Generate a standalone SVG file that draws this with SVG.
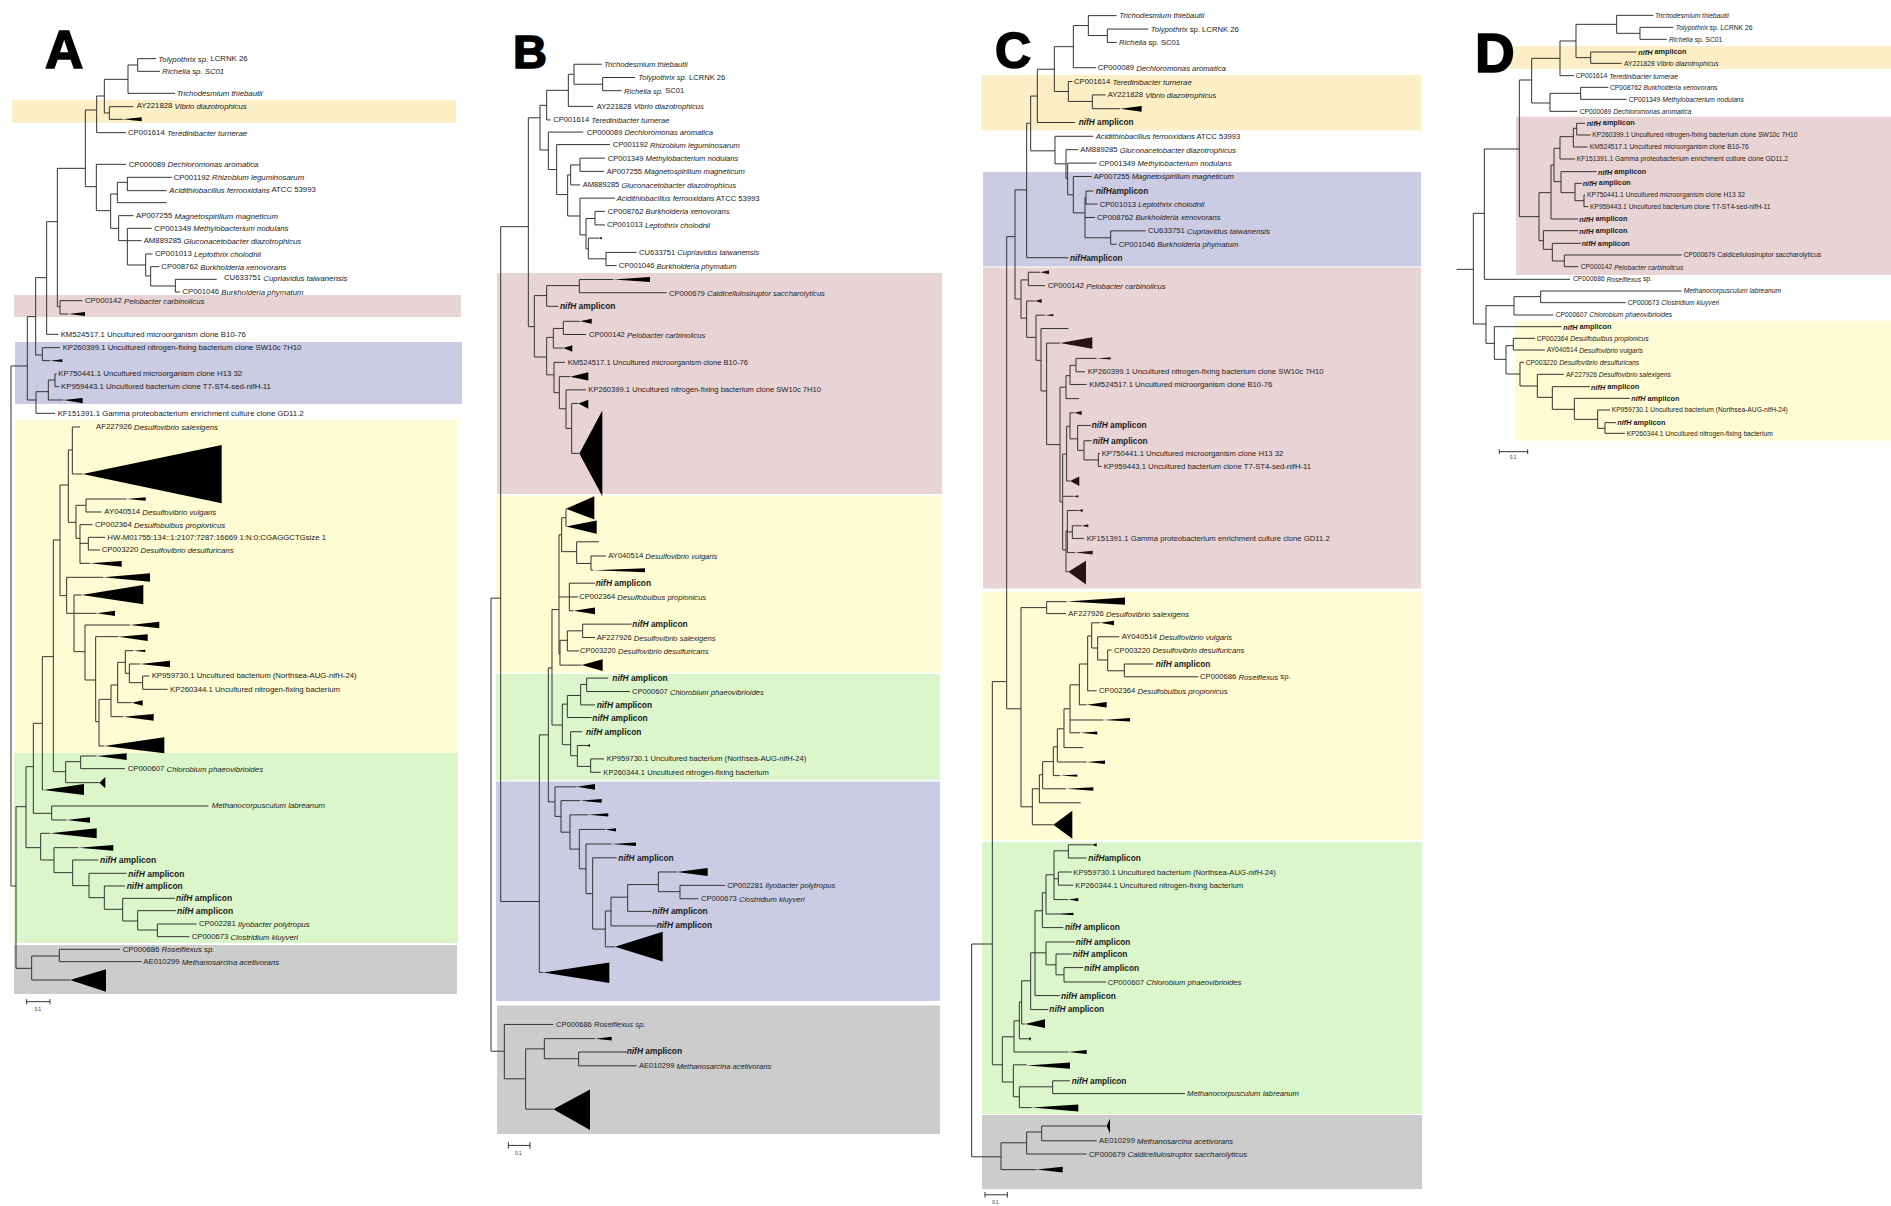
<svg xmlns="http://www.w3.org/2000/svg" width="1891" height="1206" viewBox="0 0 1891 1206">
<style>
text{font-family:"Liberation Sans",Arial,sans-serif;fill:#1a1a1a;dominant-baseline:central}
.i{font-style:italic}
.n{font-weight:bold}
.br{fill:none;stroke:#333;stroke-width:1;vector-effect:non-scaling-stroke}
.tr{fill:#000}
.trd{fill:#2a1212}
.L{font-size:50px;font-weight:bold;fill:#000;stroke:#000;stroke-width:1.6;dominant-baseline:auto}
.sb{font-size:4.5px}
#pA text{font-size:7.8px}#pA .n{font-size:8.5px}
#pB text{font-size:7.6px}#pB .n{font-size:8.4px}
#pC text{font-size:7.7px}#pC .n{font-size:8.3px}
#pD text{font-size:6.7px}#pD .n{font-size:7.3px}
#pA .sb,#pB .sb,#pC .sb,#pD .sb{font-size:4.5px}
.or{fill:#FCEFC6}.pk{fill:#E9D4D5}.lv{fill:#CBCBE3}.ye{fill:#FFFBD2}.gr{fill:#DCF6CB}.gy{fill:#CCCCCC}
</style>
<rect width="1891" height="1206" fill="#fff"/>
<g id="bands">
<rect class="or" x="12" y="100" width="444" height="23"/>
<rect class="pk" x="14" y="295" width="447" height="22"/>
<rect class="lv" x="15" y="342" width="447" height="62"/>
<rect class="ye" x="15" y="420" width="443" height="333"/>
<rect class="gr" x="14" y="753" width="444" height="190"/>
<rect class="gy" x="14" y="945" width="443" height="49"/>
<rect class="pk" x="497" y="273" width="445" height="221"/>
<rect class="ye" x="496" y="495.5" width="445" height="177"/>
<rect class="gr" x="496" y="674" width="444" height="106"/>
<rect class="lv" x="496" y="781.5" width="444" height="219.5"/>
<rect class="gy" x="497" y="1005.5" width="443" height="128.5"/>
<rect class="or" x="981" y="75" width="440" height="55.5"/>
<rect class="lv" x="983" y="172" width="438" height="94.5"/>
<rect class="pk" x="983" y="267.6" width="438" height="321"/>
<rect class="ye" x="982" y="592" width="440" height="248"/>
<rect class="gr" x="982" y="842" width="440" height="272"/>
<rect class="gy" x="982" y="1115" width="440" height="74"/>
<rect class="or" x="1510" y="46" width="381" height="23"/>
<rect class="pk" x="1516" y="116.7" width="375" height="158.3"/>
<rect class="ye" x="1515" y="321" width="376" height="119.7"/>
</g>
<g id="letters">
<text class="L" x="45" y="68" font-size="53" style="font-size:53px">A</text>
<text class="L" x="513" y="68" style="font-size:47px">B</text>
<text class="L" x="995" y="68" style="font-size:50px">C</text>
<text class="L" x="1475" y="72" style="font-size:55px">D</text>
</g>

<g id="pA" transform="scale(0.33333)">
<g id="A-connectors">
<path class="br" d="M413 176V214M413 176H468M413 214H480M384 195H413M384 195V280H525M313 238H384M313 238V339H328M328 320V358M328 320H400M328 358H368M290 288H313M290 288V398H378M256 330H290M256 330V560H289M289 493V632M289 493H378M289 632H332M332 582V685M332 582H352M352 547V608H500M352 547H382M382 532V572M382 532H515M382 572H500M332 685H356M356 647V722M356 647H400M356 722H382M382 685V795M382 685H455M382 722H425M382 795H437M437 762V828M437 762H458M437 828H452M452 800V858M452 800H478M452 858H526M526 838V876M526 838H650M526 876H540M172 505H256M172 505V920H180M180 902V942M180 902H247M180 942H205M140 665H172M140 665V1003H175M107 833H140M107 833V1065H127M127 1043V1082M127 1043H180M127 1082H150M82 950H107M82 950V1200H108M108 1175V1240H165M108 1175H145M145 1140V1200H190M145 1140H165M165 1122V1160M165 1122H170M165 1160H178M33 1098H82M33 1098V2658H48"/>
<path class="br" d="M217 1281H240M217 1281V1422H248M205 1350H217M205 1350V1567H228M258 1497V1536M258 1497H380M258 1536H305M228 1516H258M228 1516V1615H240M240 1574V1690M240 1574H278M240 1630H265M265 1612V1650M265 1612H315M265 1650H300M240 1690H270M180 1455H205M180 1455V1787H200M200 1732V1840M200 1732H310M200 1840H222M222 1785V1955M222 1785H245M222 1840H290M222 1955H255M255 1875V2040M255 1875H390M255 2040H287M287 1910V2165M287 1910H355M287 2165H297M297 2098V2238H313M297 2098H333M333 2055V2150H370M333 2055H353M353 1987V2108H395M353 1987H376M376 1952V2020M376 1952H400M376 2020H388M388 1992V2048M388 1992H420M388 2048H428M428 2028V2068M428 2028H448M428 2068H503"/>
<path class="br" d="M160 1620H180M160 1620V2315H197M197 2285V2348M197 2285H242M197 2348H298M242 2268V2306M242 2268H290M242 2306H375M127 1970H160M127 1970V2370H130M100 2170H127M100 2170V2440H155M155 2418V2460M155 2418H625M155 2460H200M78 2300H100M78 2300V2543H122M122 2500V2580M122 2500H150M122 2580H162M162 2543V2618M162 2543H235M162 2618H218M218 2580V2657M218 2580H295M218 2657H267M267 2620V2693M267 2620H380M267 2693H313M313 2658V2728M313 2658H375M313 2728H368M368 2695V2763M368 2695H525M368 2763H413M413 2732V2790M413 2732H528M413 2790H472M472 2772V2810M472 2772H590M472 2810H568M48 2420H78M48 2420V2905H95M95 2868V2940M95 2868H178M95 2940H210M178 2848V2885M178 2848H360M178 2885H425M80 3005H150M80 2997V3013M150 2997V3013"/>
<g class="tr">
<polygon points="368,358 425,352 425,364"/><polygon points="205,942 255,936 255,948"/><polygon points="150,1082 187,1078 187,1086"/><polygon points="190,1200 248,1194 248,1210"/><polygon points="248,1422 665,1335 665,1510"/><polygon points="380,1497 437,1492 437,1502"/><polygon points="270,1690 365,1683 365,1700"/><polygon points="310,1732 450,1720 450,1745"/><polygon points="245,1785 430,1755 430,1813"/><polygon points="290,1840 345,1832 345,1848"/><polygon points="390,1875 478,1865 478,1885"/><polygon points="355,1910 443,1903 443,1923"/><polygon points="313,2238 493,2212 493,2260"/><polygon points="370,2150 461,2142 461,2162"/><polygon points="395,2108 428,2101 428,2117"/><polygon points="400,1952 436,1949 436,1956"/><polygon points="420,1992 510,1982 510,2002"/><polygon points="298,2348 316,2331 316,2365"/><polygon points="290,2268 380,2260 380,2280"/><polygon points="130,2370 252,2352 252,2385"/><polygon points="200,2460 270,2452 270,2468"/><polygon points="150,2500 290,2485 290,2515"/><polygon points="235,2543 340,2535 340,2552"/><polygon points="210,2940 318,2908 318,2975"/>
</g>
</g>
<g id="A-labels">
<text id="A1" transform="translate(475 176)scale(3)"><tspan class="i">Tolypothrix sp.</tspan> LCRNK 26</text>
<text id="A2" transform="translate(487 214)scale(3)" class="i">Richelia sp. SC01</text>
<text id="A3" transform="translate(530 280)scale(3)" class="i">Trichodesmium thiebautii</text>
<text id="A4" transform="translate(410 318)scale(3)">AY221828 <tspan class="i">Vibrio diazotrophicus</tspan></text>
<text id="A5" transform="translate(384 398)scale(3)">CP001614 <tspan class="i">Teredinibacter turnerae</tspan></text>
<text id="A6" transform="translate(386 493)scale(3)">CP000089 <tspan class="i">Dechloromonas aromatica</tspan></text>
<text id="A7" transform="translate(521 532)scale(3)">CP001192 <tspan class="i">Rhizobium leguminosarum</tspan></text>
<text id="A8" transform="translate(508 570)scale(3)"><tspan class="i">Acidithiobacillus ferrooxidans</tspan> ATCC 53993</text>
<text id="A9" transform="translate(408 647)scale(3)">AP007255 <tspan class="i">Magnetospirillum magneticum</tspan></text>
<text id="A10" transform="translate(463 685)scale(3)">CP001349 <tspan class="i">Methylobacterium nodulans</tspan></text>
<text id="A11" transform="translate(431 722)scale(3)">AM889285 <tspan class="i">Gluconacetobacter diazotrophicus</tspan></text>
<text id="A12" transform="translate(465 762)scale(3)">CP001013 <tspan class="i">Leptothrix cholodnii</tspan></text>
<text id="A13" transform="translate(484 800)scale(3)">CP008762 <tspan class="i">Burkholderia xenovorans</tspan></text>
<text id="A14" transform="translate(672 834)scale(3)">CU633751 <tspan class="i">Cupriavidus taiwanensis</tspan></text>
<text id="A15" transform="translate(547 876)scale(3)">CP001046 <tspan class="i">Burkholderia phymatum</tspan></text>
<text id="A16" transform="translate(255 902)scale(3)">CP000142 <tspan class="i">Pelobacter carbinolicus</tspan></text>
<text id="A17" transform="translate(182 1003)scale(3)">KM524517.1 Uncultured microorganism clone B10-76</text>
<text id="A18" transform="translate(188 1043)scale(3)">KP260399.1 Uncultured nitrogen-fixing bacterium clone SW10c 7H10</text>
<text id="A19" transform="translate(175 1122)scale(3)">KP750441.1 Uncultured microorganism clone H13 32</text>
<text id="A20" transform="translate(183 1160)scale(3)">KP959443.1 Uncultured bacterium clone T7-ST4-sed-nifH-11</text>
<text id="A21" transform="translate(173 1240)scale(3)">KF151391.1 Gamma proteobacterium enrichment culture clone GD11.2</text>
<text id="A22" transform="translate(288 1281)scale(3)">AF227926 <tspan class="i">Desulfovibrio salexigens</tspan></text>
<text id="A23" transform="translate(313 1536)scale(3)">AY040514 <tspan class="i">Desulfovibrio vulgaris</tspan></text>
<text id="A24" transform="translate(285 1574)scale(3)">CP002364 <tspan class="i">Desulfobulbus propionicus</tspan></text>
<text id="A25" transform="translate(322 1612)scale(3)">HW-M01755:134::1:2107:7287:16669 1:N:0:CGAGGCTGsize 1</text>
<text id="A26" transform="translate(305 1650)scale(3)">CP003220 <tspan class="i">Desulfovibrio desulfuricans</tspan></text>
<text id="A27" transform="translate(455 2028)scale(3)">KP959730.1 Uncultured bacterium (Northsea-AUG-nifH-24)</text>
<text id="A28" transform="translate(510 2068)scale(3)">KP260344.1 Uncultured nitrogen-fixing bacterium</text>
<text id="A29" transform="translate(383 2306)scale(3)">CP000607 <tspan class="i">Chlorobium phaeovibrioides</tspan></text>
<text id="A30" transform="translate(635 2418)scale(3)" class="i">Methanocorpusculum labreanum</text>
<text id="A31" class="n" transform="translate(300 2580)scale(3)"><tspan class="i">nifH</tspan> amplicon</text>
<text id="A32" class="n" transform="translate(385 2623)scale(3)"><tspan class="i">nifH</tspan> amplicon</text>
<text id="A33" class="n" transform="translate(380 2658)scale(3)"><tspan class="i">nifH</tspan> amplicon</text>
<text id="A34" class="n" transform="translate(528 2695)scale(3)"><tspan class="i">nifH</tspan> amplicon</text>
<text id="A35" class="n" transform="translate(531 2732)scale(3)"><tspan class="i">nifH</tspan> amplicon</text>
<text id="A36" transform="translate(597 2772)scale(3)">CP002281 <tspan class="i">Ilyobacter polytropus</tspan></text>
<text id="A37" transform="translate(575 2810)scale(3)">CP000673 <tspan class="i">Clostridium kluyveri</tspan></text>
<text id="A38" transform="translate(368 2848)scale(3)">CP000686 <tspan class="i">Roseiflexus sp.</tspan></text>
<text id="A39" transform="translate(430 2885)scale(3)">AE010299 <tspan class="i">Methanosarcina acetivorans</tspan></text>
<text id="A40" class="sb" transform="translate(104 3028)scale(3)">0.1</text>
</g>
</g>

<g id="pB">
<g id="B-connectors-top" transform="translate(480 0) scale(0.33333 0.357)">
<path class="br" d="M282 180V236M282 180H365M368 217V254M368 217H465M368 254H425M282 236H368M265 208H282M265 208V298H340M200 253H265M200 253V336H212M180 295H200M180 295V420H205M205 370V475M205 370H310M205 475H230M230 405V545M230 405H390M230 545H263M263 490V605M263 490H272M272 462V518M272 518H300M272 462H300M300 443V480M300 443H375M300 480H372M263 605H300M300 555V658M300 555H405M300 658H318M318 612V697M318 612H345M345 592V630M345 592H375M345 630H375M318 697H325M325 667V725M325 667H357M325 725H378M378 707V744M378 707H470M378 744H410M145 330H180M145 330V915H163M62 635H145M163 828V1000M163 828H200M200 800V858M200 800H298M298 783V820M298 783H400M298 820H560M200 858H235M163 1000H200M200 945V1050M200 945H220M220 920V975M220 920H250M250 900V937M250 900H300M250 937H318M220 975H250M200 1050H222M222 1015V1100M222 1015H255M222 1100H238M238 1055V1145M238 1055H270M238 1145H258M258 1092V1200M258 1092H318M258 1200H275M275 1130V1270M275 1130H295M275 1270H298M258 1425V1475"/>
<g class="tr">
<polygon points="357,667 365,663 365,671"/><polygon points="400,783 510,776 510,790"/><polygon points="300,900 335,893 335,907"/><polygon points="250,975 277,967 277,985"/><polygon points="270,1055 325,1043 325,1066"/><polygon points="295,1130 325,1120 325,1145"/><polygon points="298,1270 367,1150 367,1390"/><polygon points="258,1425 343,1390 343,1455"/><polygon points="258,1475 350,1458 350,1495"/>
</g>
<g id="B-labels-top">
<text id="B1" transform="translate(372 180)scale(3 2.8)" class="i">Trichodesmium thiebautii</text>
<text id="B2" transform="translate(475 217)scale(3 2.8)"><tspan class="i">Tolypothrix sp.</tspan> LCRNK 26</text>
<text id="B3" transform="translate(432 254)scale(3 2.8)"><tspan class="i">Richelia sp.</tspan> SC01</text>
<text id="B4" transform="translate(350 298)scale(3 2.8)">AY221828 <tspan class="i">Vibrio diazotrophicus</tspan></text>
<text id="B5" transform="translate(220 336)scale(3 2.8)">CP001614 <tspan class="i">Teredinibacter turnerae</tspan></text>
<text id="B6" transform="translate(320 370)scale(3 2.8)">CP000089 <tspan class="i">Dechloromonas aromatica</tspan></text>
<text id="B7" transform="translate(398 405)scale(3 2.8)">CP001192 <tspan class="i">Rhizobium leguminosarum</tspan></text>
<text id="B8" transform="translate(383 443)scale(3 2.8)">CP001349 <tspan class="i">Methylobacterium nodulans</tspan></text>
<text id="B9" transform="translate(380 480)scale(3 2.8)">AP007255 <tspan class="i">Magnetospirillum magneticum</tspan></text>
<text id="B10" transform="translate(308 518)scale(3 2.8)">AM889285 <tspan class="i">Gluconacetobacter diazotrophicus</tspan></text>
<text id="B11" transform="translate(410 555)scale(3 2.8)"><tspan class="i">Acidithiobacillus ferrooxidans</tspan> ATCC 53993</text>
<text id="B12" transform="translate(383 592)scale(3 2.8)">CP008762 <tspan class="i">Burkholderia xenovorans</tspan></text>
<text id="B13" transform="translate(381 630)scale(3 2.8)">CP001013 <tspan class="i">Leptothrix cholodnii</tspan></text>
<text id="B14" transform="translate(477 707)scale(3 2.8)">CU633751 <tspan class="i">Cupriavidus taiwanensis</tspan></text>
<text id="B15" transform="translate(416 744)scale(3 2.8)">CP001046 <tspan class="i">Burkholderia phymatum</tspan></text>
<text id="B16" transform="translate(567 822)scale(3 2.8)">CP000679 <tspan class="i">Caldicellulosiruptor saccharolyticus</tspan></text>
<text id="B17" class="n" transform="translate(240 858)scale(3 2.8)"><tspan class="i">nifH</tspan> amplicon</text>
<text id="B18" transform="translate(327 937)scale(3 2.8)">CP000142 <tspan class="i">Pelobacter carbinolicus</tspan></text>
<text id="B19" transform="translate(263 1015)scale(3 2.8)">KM524517.1 Uncultured microorganism clone B10-76</text>
<text id="B20" transform="translate(325 1092)scale(3 2.8)">KP260399.1 Uncultured nitrogen-fixing bacterium clone SW10c 7H10</text>
</g>
</g>
<path id="B-trunk" class="br" d="M500.7 226.7V901.5"/>
<g id="B-connectors-bottom" transform="translate(480 541.8) scale(0.33333 0.394)">
<path class="br" d="M245 -61H258M245 -61V25H290M290 0V55M290 0H357M290 55H333M333 36V72M333 36H378M333 72H340M237 -18H245M237 -18V285H240M237 140H268M268 105V175M268 105H345M268 140H295M268 175H280M240 250V313M240 250H262M262 226V277M262 226H308M308 209V243M308 209H455M308 243H345M262 277H297M240 313H305M216 172H237M216 172V465H247M205 320H216M205 320V660H225M178 490H205M178 490V1093H190M62 913H178M247 412V515M247 412H262M247 515H272M262 390V446M262 390H302M262 446H335M302 362V414M302 362H320M302 414H345M320 346V380M320 346H385M320 380H450M272 482V543M272 482H307M272 543H292M292 517V570M292 517H328M292 570H332M332 551V585M332 551H372M332 585H362M225 622V697M225 622H290M225 697H243M243 657V737M243 657H300M243 737H270M270 693V780M270 693H325M270 780H298M298 730V830M298 730H375M298 830H318M318 767V893M318 767H395M318 893H338M338 802V983M338 802H410M338 983H376M376 937V1028M376 937H393M376 1028H405M393 902V975M393 902H443M393 975H530M443 870V938M443 870H535M443 938H515M535 838V888M535 838H590M535 888H600M600 872V906M600 872H735M600 906H655M33 143V1293M33 143H62M33 1293H73M73 1225V1363M73 1225H220M73 1363H137M137 1287V1440M137 1287H193M137 1440H220M193 1261V1312M193 1261H345M193 1312H296M296 1295V1330M296 1295H440M296 1330H470M85 1532H150M85 1524V1540M150 1524V1540"/>
<g class="tr">
<polygon points="340,72 495,67 495,77"/><polygon points="280,175 345,167 345,184"/><polygon points="305,313 368,298 368,328"/><polygon points="190,1093 388,1068 388,1120"/><polygon points="322,517 330,513 330,521"/><polygon points="290,622 345,615 345,629"/><polygon points="300,657 365,653 365,662"/><polygon points="325,693 385,689 385,697"/><polygon points="375,730 408,727 408,735"/><polygon points="395,767 468,763 468,772"/><polygon points="405,1028 548,990 548,1065"/><polygon points="590,838 683,828 683,848"/><polygon points="220,1440 330,1390 330,1493"/><polygon points="345,1261 395,1256 395,1266"/>
</g>
<g id="B-labels-bottom">
<text id="B21" transform="translate(385 36)scale(3 2.538)">AY040514 <tspan class="i">Desulfovibrio vulgaris</tspan></text>
<text id="B22" class="n" transform="translate(347 104)scale(3 2.538)"><tspan class="i">nifH</tspan> amplicon</text>
<text id="B23" transform="translate(298 140)scale(3 2.538)">CP002364 <tspan class="i">Desulfobulbus propionicus</tspan></text>
<text id="B24" class="n" transform="translate(457 209)scale(3 2.538)"><tspan class="i">nifH</tspan> amplicon</text>
<text id="B25" transform="translate(350 243)scale(3 2.538)">AF227926 <tspan class="i">Desulfovibrio salexigens</tspan></text>
<text id="B26" transform="translate(300 277)scale(3 2.538)">CP003220 <tspan class="i">Desulfovibrio desulfuricans</tspan></text>
<text id="B27" class="n" transform="translate(397 346)scale(3 2.538)"><tspan class="i">nifH</tspan> amplicon</text>
<text id="B28" transform="translate(456 380)scale(3 2.538)">CP000607 <tspan class="i">Chlorobium phaeovibrioides</tspan></text>
<text id="B29" class="n" transform="translate(350 414)scale(3 2.538)"><tspan class="i">nifH</tspan> amplicon</text>
<text id="B30" class="n" transform="translate(337 446)scale(3 2.538)"><tspan class="i">nifH</tspan> amplicon</text>
<text id="B31" class="n" transform="translate(318 482)scale(3 2.538)"><tspan class="i">nifH</tspan> amplicon</text>
<text id="B32" transform="translate(380 551)scale(3 2.538)">KP959730.1 Uncultured bacterium (Northsea-AUG-nifH-24)</text>
<text id="B33" transform="translate(370 585)scale(3 2.538)">KP260344.1 Uncultured nitrogen-fixing bacterium</text>
<text id="B34" class="n" transform="translate(415 802)scale(3 2.538)"><tspan class="i">nifH</tspan> amplicon</text>
<text id="B35" transform="translate(742 872)scale(3 2.538)">CP002281 <tspan class="i">Ilyobacter polytropus</tspan></text>
<text id="B36" transform="translate(663 906)scale(3 2.538)">CP000673 <tspan class="i">Clostridium kluyveri</tspan></text>
<text id="B37" class="n" transform="translate(517 938)scale(3 2.538)"><tspan class="i">nifH</tspan> amplicon</text>
<text id="B38" class="n" transform="translate(530 973)scale(3 2.538)"><tspan class="i">nifH</tspan> amplicon</text>
<text id="B39" transform="translate(228 1225)scale(3 2.538)">CP000686 <tspan class="i">Roseiflexus sp.</tspan></text>
<text id="B40" class="n" transform="translate(440 1293)scale(3 2.538)"><tspan class="i">nifH</tspan> amplicon</text>
<text id="B41" transform="translate(477 1330)scale(3 2.538)">AE010299 <tspan class="i">Methanosarcina acetivorans</tspan></text>
<text id="B42" class="sb" transform="translate(106 1553)scale(3 2.538)">0.1</text>
</g>
</g>
</g>

<g id="pC">
<g id="C-connectors-top" transform="translate(960 -1.6) scale(0.33333 0.383)">
<path class="br" d="M442 80V115M442 80H565M442 115H470M385 97H442M385 45V97M385 45H470M340 71H385M340 71V181H408M283 126H340M283 126V243H325M325 217V269M325 217H337M325 269H397M397 252V288M397 252H437M397 288H480M232 185H283M232 185V324H345M212 255H232M212 255V398H285M285 360V432M285 360H400M285 432H318M318 395V470M318 395H355M318 470H323M323 430V513M323 430H410M323 513H340M340 465V560M340 465H395M340 560H375M375 520V625M375 520H378M378 503V537M378 503H400M378 537H412M375 572H405M375 625H452M452 607V642M452 607H557M452 642H470M200 326H212M200 326V677H325M165 500H200M165 500V785H183M140 622H165"/>
<path class="br" d="M183 735V835M183 735H205M205 715V750M205 715H240M205 750H255M183 835H200M200 790V885M200 790H225M200 885H228M228 827V945M228 827H255M228 945H243M243 862V1025M243 862H325M243 1025H260M260 900V1165M260 900H300M260 1165H300M300 1015V1315M300 1015H318M318 985V1045M318 985H330M330 958V1008M330 958H348M348 940V975M348 940H410M348 975H375M330 1008H380M318 1045H357M300 1315H308M308 1190V1440M308 1190H320M308 1300H340M308 1440H318M320 1117V1260M320 1117H330M320 1260H330M330 1082V1150M330 1082H342M330 1150H353M353 1115V1180M353 1115H393M353 1180H372M372 1155V1205M372 1155H395M372 1205H415M415 1188V1222M415 1188H420M415 1222H425M318 1390V1497H325M318 1390H322M322 1337V1447M322 1337H355M322 1393H337M337 1377V1410M337 1377H365M337 1410H372M322 1447H345"/>
<polygon class="tr" points="480,288 545,281 545,296"/>
<g class="trd">
<polygon points="240,715 267,710 267,720"/><polygon points="225,790 245,785 245,795"/><polygon points="255,827 280,824 280,830"/><polygon points="300,900 397,885 397,915"/><polygon points="410,940 452,937 452,943"/><polygon points="342,1082 365,1077 365,1088"/><polygon points="330,1260 358,1248 358,1273"/><polygon points="340,1300 355,1297 355,1303"/><polygon points="355,1337 368,1333 368,1341"/><polygon points="365,1377 385,1373 385,1381"/><polygon points="345,1447 398,1442 398,1452"/><polygon points="325,1497 378,1468 378,1530"/>
</g>
<g id="C-labels-top">
<text id="C1" transform="translate(478 45)scale(3 2.611)" class="i">Trichodesmium thiebautii</text>
<text id="C2" transform="translate(572 80)scale(3 2.611)"><tspan class="i">Tolypothrix</tspan> sp. LCRNK 26</text>
<text id="C3" transform="translate(477 115)scale(3 2.611)"><tspan class="i">Richelia</tspan> sp. SC01</text>
<text id="C4" transform="translate(413 181)scale(3 2.611)">CP000089 <tspan class="i">Dechloromonas aromatica</tspan></text>
<text id="C5" transform="translate(342 217)scale(3 2.611)">CP001614 <tspan class="i">Teredinibacter turnerae</tspan></text>
<text id="C6" transform="translate(443 252)scale(3 2.611)">AY221828 <tspan class="i">Vibrio diazotrophicus</tspan></text>
<text id="C7" class="n" transform="translate(356 323)scale(3 2.611)"><tspan class="i">nifH</tspan> amplicon</text>
<text id="C8" transform="translate(407 360)scale(3 2.611)"><tspan class="i">Acidithiobacillus ferrooxidans</tspan> ATCC 53993</text>
<text id="C9" transform="translate(361 395)scale(3 2.611)">AM889285 <tspan class="i">Gluconacetobacter diazotrophicus</tspan></text>
<text id="C10" transform="translate(417 430)scale(3 2.611)">CP001349 <tspan class="i">Methylobacterium nodulans</tspan></text>
<text id="C11" transform="translate(401 465)scale(3 2.611)">AP007255 <tspan class="i">Magnetospirillum magneticum</tspan></text>
<text id="C12" class="n" transform="translate(407 502)scale(3 2.611)"><tspan class="i">nifH</tspan>amplicon</text>
<text id="C13" transform="translate(419 537)scale(3 2.611)">CP001013 <tspan class="i">Leptothrix cholodnii</tspan></text>
<text id="C14" transform="translate(411 572)scale(3 2.611)">CP008762 <tspan class="i">Burkholderia xenovorans</tspan></text>
<text id="C15" transform="translate(564 607)scale(3 2.611)">CU633751 <tspan class="i">Cupriavidus taiwanensis</tspan></text>
<text id="C16" transform="translate(476 642)scale(3 2.611)">CP001046 <tspan class="i">Burkholderia phymatum</tspan></text>
<text id="C17" class="n" transform="translate(330 677)scale(3 2.611)"><tspan class="i">nifH</tspan>amplicon</text>
<text id="C18" transform="translate(263 750)scale(3 2.611)">CP000142 <tspan class="i">Pelobacter carbinolicus</tspan></text>
<text id="C19" transform="translate(383 973)scale(3 2.611)">KP260399.1 Uncultured nitrogen-fixing bacterium clone SW10c 7H10</text>
<text id="C20" transform="translate(388 1008)scale(3 2.611)">KM524517.1 Uncultured microorganism clone B10-76</text>
<text id="C21" class="n" transform="translate(395 1115)scale(3 2.611)"><tspan class="i">nifH</tspan> amplicon</text>
<text id="C22" class="n" transform="translate(398 1155)scale(3 2.611)"><tspan class="i">nifH</tspan> amplicon</text>
<text id="C23" transform="translate(425 1188)scale(3 2.611)">KP750441.1 Uncultured microorganism clone H13 32</text>
<text id="C24" transform="translate(431 1222)scale(3 2.611)">KP959443.1 Uncultured bacterium clone T7-ST4-sed-nifH-11</text>
<text id="C25" transform="translate(380 1410)scale(3 2.611)">KF151391.1 Gamma proteobacterium enrichment culture clone GD11.2</text>
</g>
</g>
<path id="C-trunk" class="br" d="M1006.7 236.6V708.8"/>
<g id="C-connectors-bottom" transform="translate(960 576.8) scale(0.33333 0.4)">
<path class="br" d="M140 330H183M183 77V575M183 77H260M260 62V92M260 62H320M260 92H318M183 575H217M217 530V620M217 530H238M217 620H280M238 495V565M238 495H248M238 565H362M248 462V530M248 462H280M248 530H318M280 425V497M280 425H292M280 497H300M292 380V463M292 380H312M292 463H380M312 330V427M312 330H330M312 427H370M330 270V390M330 270H358M330 358H430M330 390H360M358 218V320M358 218H383M358 320H380M383 148V285M383 148H395M383 285H410M395 115V178M395 115H420M395 178H413M413 150V208M413 150H478M413 208H443M443 183V235M443 183H455M443 235H493M493 218V250M493 218H580M493 250H715"/>
<path class="br" d="M97 262H140M97 262V1220H127M35 918H97M35 918V1450H123M127 1150V1263M127 1150H162M127 1263H160M162 1110V1188M162 1110H178M162 1188H325M178 1063V1155M178 1063H185M178 1155H205M185 1010V1118M185 1010H212M185 1118H195M212 940V1082M212 940H225M212 1082H265M225 835V1047M225 835H247M225 940H258M225 1047H300M247 790V877M247 790H258M247 877H310M258 745V843M258 745H282M258 843H340M282 685V807M282 685H325M282 755H295M282 807H325M325 670V703M325 670H395M325 703H380M295 738V771M295 738H335M295 771H340M258 913V970M258 913H345M258 970H288M288 943V995M288 943H335M288 995H312M312 977V1013M312 977H370M312 1013H438M160 1220V1300M160 1220H200M160 1300H178M178 1275V1327M178 1275H278M178 1327H215M278 1260V1292M278 1260H330M278 1292H675M123 1415V1482M123 1415H200M123 1482H230M200 1388V1443M200 1388H245M200 1443H380M245 1373V1410M245 1373H440M245 1410H410M75 1545H142M75 1538V1552M142 1538V1552"/>
<g class="tr">
<polygon points="320,62 495,52 495,70"/><polygon points="280,620 337,585 337,655"/><polygon points="318,530 400,526 400,535"/><polygon points="300,497 352,494 352,500"/><polygon points="380,463 435,459 435,468"/><polygon points="360,390 412,387 412,394"/><polygon points="430,358 510,353 510,362"/><polygon points="380,320 440,313 440,327"/><polygon points="420,115 462,110 462,121"/><polygon points="325,1188 380,1183 380,1193"/><polygon points="205,1155 212,1150 212,1160"/><polygon points="195,1118 255,1106 255,1128"/><polygon points="395,670 410,666 410,674"/><polygon points="325,807 355,803 355,811"/><polygon points="300,843 340,840 340,846"/><polygon points="200,1222 330,1214 330,1230"/><polygon points="215,1327 355,1319 355,1337"/><polygon points="440,1373 450,1355 450,1392"/><polygon points="230,1482 308,1475 308,1489"/>
</g>
<g id="C-labels-bottom">
<text id="C26" transform="translate(325 92)scale(3 2.5)">AF227926 <tspan class="i">Desulfovibrio salexigens</tspan></text>
<text id="C27" transform="translate(485 150)scale(3 2.5)">AY040514 <tspan class="i">Desulfovibrio vulgaris</tspan></text>
<text id="C28" transform="translate(462 183)scale(3 2.5)">CP003220 <tspan class="i">Desulfovibrio desulfuricans</tspan></text>
<text id="C29" class="n" transform="translate(587 217)scale(3 2.5)"><tspan class="i">nifH</tspan> amplicon</text>
<text id="C30" transform="translate(720 250)scale(3 2.5)">CP000686 <tspan class="i">Roseiflexus</tspan> sp.</text>
<text id="C31" transform="translate(417 285)scale(3 2.5)">CP002364 <tspan class="i">Desulfobulbus propionicus</tspan></text>
<text id="C32" class="n" transform="translate(385 703)scale(3 2.5)"><tspan class="i">nifH</tspan>amplicon</text>
<text id="C33" transform="translate(340 738)scale(3 2.5)">KP959730.1 Uncultured bacterium (Northsea-AUG-<tspan class="i">nifH</tspan>-24)</text>
<text id="C34" transform="translate(346 771)scale(3 2.5)">KP260344.1 Uncultured nitrogen-fixing bacterium</text>
<text id="C35" class="n" transform="translate(315 875)scale(3 2.5)"><tspan class="i">nifH</tspan> amplicon</text>
<text id="C36" class="n" transform="translate(347 913)scale(3 2.5)"><tspan class="i">nifH</tspan> amplicon</text>
<text id="C37" class="n" transform="translate(338 943)scale(3 2.5)"><tspan class="i">nifH</tspan> amplicon</text>
<text id="C38" class="n" transform="translate(373 977)scale(3 2.5)"><tspan class="i">nifH</tspan> amplicon</text>
<text id="C39" transform="translate(443 1013)scale(3 2.5)">CP000607 <tspan class="i">Chlorobium phaeovibrioides</tspan></text>
<text id="C40" class="n" transform="translate(303 1047)scale(3 2.5)"><tspan class="i">nifH</tspan> amplicon</text>
<text id="C41" class="n" transform="translate(268 1081)scale(3 2.5)"><tspan class="i">nifH</tspan> amplicon</text>
<text id="C42" class="n" transform="translate(335 1260)scale(3 2.5)"><tspan class="i">nifH</tspan> amplicon</text>
<text id="C43" transform="translate(681 1292)scale(3 2.5)" class="i">Methanocorpusculum labreanum</text>
<text id="C44" transform="translate(417 1410)scale(3 2.5)">AE010299 <tspan class="i">Methanosarcina acetivorans</tspan></text>
<text id="C45" transform="translate(387 1443)scale(3 2.5)">CP000679 <tspan class="i">Caldicellulosiruptor saccharolyticus</tspan></text>
<text id="C46" class="sb" transform="translate(97 1563)scale(3 2.5)">0.1</text>
</g>
</g>
</g>

<g id="pD" transform="translate(1460 0) scale(0.33333)">
<g id="D-connectors">
<path class="br" d="M540 82V118M540 82H640M540 118H620M470 100H540M470 46V100M470 46H580M348 73H470M348 73V173H392M392 156V190M392 156H530M392 190H485M300 123H348M300 123V227H342M215 175H300M215 175V309H270M270 280V334M270 280H362M270 334H352M362 262V298M362 262H445M362 298H500M178 240H215M178 240V650H237M237 578V722M237 578H273M237 722H250M273 495V657M273 495H282M273 657H355M282 445V545M282 445H300M282 545H303M300 410V477M300 410H340M300 477H345M340 385V441M340 385H350M340 441H383M350 370V405M350 370H375M350 405H392M303 515V578M303 515H410M303 578H345M345 550V602M345 550H365M345 602H372M372 585V620M372 585H375M372 620H385M250 692V748M250 692H355M250 748H277M277 730V783M277 730H362M277 783H313M313 765V800M313 765H665M313 800H355M73 447H178M73 447V838H330M40 640H73M40 640V972M-10 808H40M40 972H78M78 917V1030M78 917H162M78 1030H103M162 890V945M162 890H242M162 945H280M242 873V908M242 873H665M242 908H497M103 980V1078M103 980H305M103 1078H138M138 1037V1122M138 1037H160M138 1122H180M160 1015V1050M160 1015H225M160 1050H255M180 1087V1158M180 1087H192M180 1158H232M232 1123V1192M232 1123H312M232 1192H277M277 1160V1228M277 1160H390M277 1228H343M343 1195V1258M343 1195H510M343 1258H413M413 1230V1285M413 1230H450M413 1285H435M435 1268V1300M435 1268H468M435 1300H495M118 1355H203M118 1348V1362M203 1348V1362"/>
</g>
<g id="D-labels">
<text id="D1" transform="translate(585 46)scale(3)" class="i">Trichodesmium thiebautii</text>
<text id="D2" transform="translate(647 82)scale(3)"><tspan class="i">Tolypothrix</tspan> sp. LCRNK 26</text>
<text id="D3" transform="translate(627 118)scale(3)"><tspan class="i">Richelia</tspan> sp. SC01</text>
<text id="D4" class="n" transform="translate(535 156)scale(3)"><tspan class="i">nifH</tspan> amplicon</text>
<text id="D5" transform="translate(492 190)scale(3)">AY221828 <tspan class="i">Vibrio diazotrophicus</tspan></text>
<text id="D6" transform="translate(347 227)scale(3)">CP001614 <tspan class="i">Teredinibacter turnerae</tspan></text>
<text id="D7" transform="translate(450 262)scale(3)">CP008762 <tspan class="i">Burkholderia xenovorans</tspan></text>
<text id="D8" transform="translate(506 298)scale(3)">CP001349 <tspan class="i">Methylobacterium nodulans</tspan></text>
<text id="D9" transform="translate(359 334)scale(3)">CP000089 <tspan class="i">Dechloromonas aromatica</tspan></text>
<text id="D10" class="n" transform="translate(380 369)scale(3)"><tspan class="i">nifH</tspan> amplicon</text>
<text id="D11" transform="translate(397 405)scale(3)">KP260399.1 Uncultured nitrogen-fixing bacterium clone SW10c 7H10</text>
<text id="D12" transform="translate(389 441)scale(3)">KM524517.1 Uncultured microorganism clone B10-76</text>
<text id="D13" transform="translate(350 477)scale(3)">KF151391.1 Gamma proteobacterium enrichment culture clone GD11.2</text>
<text id="D14" class="n" transform="translate(414 516)scale(3)"><tspan class="i">nifH</tspan> amplicon</text>
<text id="D15" class="n" transform="translate(368 549)scale(3)"><tspan class="i">nifH</tspan> amplicon</text>
<text id="D16" transform="translate(381 585)scale(3)">KP750441.1 Uncultured microorganism clone H13 32</text>
<text id="D17" transform="translate(390 620)scale(3)">KP959443.1 Uncultured bacterium clone T7-ST4-sed-nifH-11</text>
<text id="D18" class="n" transform="translate(358 657)scale(3)"><tspan class="i">nifH</tspan> amplicon</text>
<text id="D19" class="n" transform="translate(358 692)scale(3)"><tspan class="i">nifH</tspan> amplicon</text>
<text id="D20" class="n" transform="translate(365 730)scale(3)"><tspan class="i">nifH</tspan> amplicon</text>
<text id="D21" transform="translate(671 764)scale(3)">CP000679 Caldicellulosiruptor saccharolyticus</text>
<text id="D22" transform="translate(362 800)scale(3)">CP000142 <tspan class="i">Pelobacter carbinolicus</tspan></text>
<text id="D23" transform="translate(339 836)scale(3)">CP000686 <tspan class="i">Roseiflexus</tspan> sp.</text>
<text id="D24" transform="translate(671 872)scale(3)" class="i">Methanocorpusculum labreanum</text>
<text id="D25" transform="translate(503 907)scale(3)">CP000673 <tspan class="i">Clostridium kluyveri</tspan></text>
<text id="D26" transform="translate(287 943)scale(3)">CP000607 <tspan class="i">Chlorobium phaeovibrioides</tspan></text>
<text id="D27" class="n" transform="translate(310 980)scale(3)"><tspan class="i">nifH</tspan> amplicon</text>
<text id="D28" transform="translate(230 1015)scale(3)">CP002364 <tspan class="i">Desulfobulbus propionicus</tspan></text>
<text id="D29" transform="translate(260 1050)scale(3)">AY040514 <tspan class="i">Desulfovibrio vulgaris</tspan></text>
<text id="D30" transform="translate(197 1087)scale(3)">CP003220 <tspan class="i">Desulfovibrio desulfuricans</tspan></text>
<text id="D31" transform="translate(318 1123)scale(3)">AF227926 <tspan class="i">Desulfovibrio salexigens</tspan></text>
<text id="D32" class="n" transform="translate(393 1160)scale(3)"><tspan class="i">nifH</tspan> amplicon</text>
<text id="D33" class="n" transform="translate(514 1195)scale(3)"><tspan class="i">nifH</tspan> amplicon</text>
<text id="D34" transform="translate(455 1230)scale(3)">KP959730.1 Uncultured bacterium (Northsea-AUG-nifH-24)</text>
<text id="D35" class="n" transform="translate(472 1267)scale(3)"><tspan class="i">nifH</tspan> amplicon</text>
<text id="D36" transform="translate(500 1300)scale(3)">KP260344.1 Uncultured nitrogen-fixing bacterium</text>
<text id="D37" class="sb" transform="translate(150 1372)scale(3)">0.1</text>
</g>
</g>
</svg>
